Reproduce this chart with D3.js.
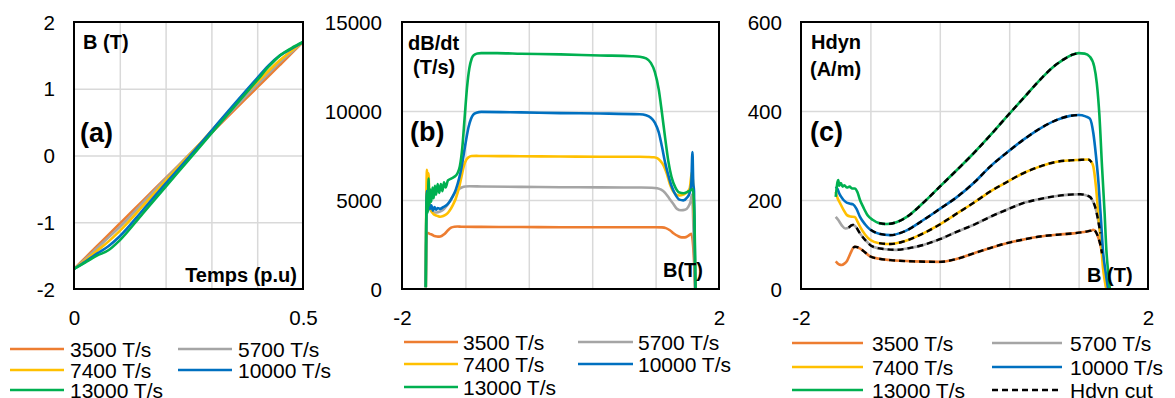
<!DOCTYPE html>
<html><head><meta charset="utf-8">
<script src="https://cdn.jsdelivr.net/npm/d3@7"></script>
<style>body{margin:0;background:#fff}svg{display:block}</style>
</head><body><svg id="c" width="1175" height="398"></svg>
<script>
// ---------- DATA ----------
const seriesNames = ["3500 T/s","5700 T/s","7400 T/s","10000 T/s","13000 T/s"];
const seriesColors = ["#ED7D31","#A5A5A5","#FFC000","#0070C0","#00B050"];

// Panel (a): B(T) vs time (p.u)
const aT = [0,0.025,0.05,0.075,0.1,0.15,0.2,0.25,0.3,0.35,0.4,0.425,0.45,0.475,0.5];
const a3500  = [-1.70,-1.53,-1.36,-1.19,-1.02,-0.68,-0.34,0.00,0.34,0.68,1.02,1.19,1.36,1.53,1.70];
const a5700  = [-1.70,-1.55,-1.39,-1.23,-1.07,-0.71,-0.35,0.00,0.35,0.71,1.06,1.23,1.40,1.55,1.70];
const a7400  = [-1.70,-1.57,-1.43,-1.29,-1.13,-0.76,-0.38,-0.01,0.37,0.75,1.10,1.27,1.43,1.57,1.70];
const a10000 = [-1.70,-1.59,-1.47,-1.36,-1.21,-0.82,-0.42,-0.03,0.37,0.77,1.16,1.35,1.50,1.60,1.70];
const a13000 = [-1.70,-1.60,-1.50,-1.42,-1.27,-0.87,-0.47,-0.07,0.33,0.73,1.13,1.33,1.50,1.61,1.70];
const aXTicks = [0,0.5], aXGrid = [0.1,0.2,0.3,0.4], aYTicks = [-2,-1,0,1,2];

// Panel (b): dB/dt vs B
const bB3500 = [-1.70,-1.695,-1.685,-1.67,-1.65,-1.62,-1.59,-1.56,-1.53,-1.50,-1.46,-1.42,-1.38,-1.34,-1.30,-1.25,-1.0,-0.5,0,0.5,1.0,1.20,1.28,1.33,1.38,1.43,1.48,1.53,1.57,1.61,1.65,1.68,1.70];
const bV3500 = [100,2500,3100,3150,3100,3050,2980,2950,2940,2980,3100,3300,3450,3500,3510,3500,3490,3480,3470,3470,3470,3470,3460,3420,3300,3120,2980,2900,2900,2980,3100,2000,0];
const bB5700 = [-1.70,-1.695,-1.685,-1.67,-1.65,-1.62,-1.59,-1.56,-1.52,-1.48,-1.44,-1.40,-1.36,-1.32,-1.28,-1.24,-1.20,-1.15,-1.0,-0.5,0,0.5,1.0,1.15,1.22,1.27,1.32,1.37,1.42,1.47,1.52,1.57,1.61,1.64,1.66,1.68,1.70];
const bV5700 = [100,3500,5300,4800,4500,4350,4300,4300,4350,4450,4650,4900,5200,5450,5620,5720,5760,5770,5760,5740,5720,5710,5700,5690,5660,5580,5400,5100,4800,4500,4420,4450,4600,4900,5300,3000,0];
const bB7400 = [-1.70,-1.695,-1.685,-1.675,-1.665,-1.655,-1.64,-1.62,-1.60,-1.58,-1.55,-1.52,-1.48,-1.44,-1.40,-1.36,-1.32,-1.28,-1.25,-1.22,-1.19,-1.16,-1.12,-1.06,-1.0,-0.5,0,0.5,1.0,1.10,1.18,1.22,1.26,1.30,1.34,1.38,1.42,1.46,1.50,1.55,1.60,1.63,1.66,1.69,1.70];
const bV7400 = [100,4000,6700,6000,6500,4800,4500,4300,4200,4150,4100,4060,4100,4200,4400,4700,5100,5700,6300,6900,7250,7400,7470,7480,7470,7460,7440,7430,7430,7420,7400,7350,7200,6950,6500,5900,5500,5300,5250,5300,5450,5650,6600,3000,0];
const bB10000 = [-1.70,-1.695,-1.685,-1.675,-1.665,-1.65,-1.63,-1.61,-1.59,-1.57,-1.55,-1.52,-1.48,-1.44,-1.40,-1.36,-1.32,-1.28,-1.25,-1.22,-1.19,-1.16,-1.13,-1.10,-1.06,-1.0,-0.5,0,0.5,1.0,1.08,1.14,1.19,1.24,1.28,1.32,1.36,1.40,1.45,1.50,1.55,1.60,1.63,1.65,1.665,1.675,1.685,1.695,1.70];
const bV10000 = [100,3300,5500,4600,5000,4500,4700,4400,4600,4450,4550,4500,4600,4700,4900,5200,5600,6200,6800,7600,8400,9100,9550,9800,9900,9950,9920,9880,9860,9820,9760,9620,9350,8800,8000,7100,6400,5800,5300,5020,4980,5150,5400,5900,7700,6000,5500,2000,0];
const bB13000 = [-1.70,-1.695,-1.685,-1.675,-1.665,-1.655,-1.645,-1.63,-1.615,-1.60,-1.585,-1.57,-1.55,-1.53,-1.51,-1.49,-1.47,-1.45,-1.42,-1.38,-1.34,-1.30,-1.27,-1.24,-1.21,-1.18,-1.15,-1.12,-1.09,-1.05,-1.0,-0.8,-0.5,0,0.5,0.9,1.0,1.08,1.14,1.19,1.24,1.28,1.32,1.36,1.40,1.45,1.50,1.55,1.60,1.64,1.67,1.69,1.70,1.705];
const bV13000 = [100,3500,5400,4300,6200,4700,5600,4900,5700,5100,5800,5300,5900,5400,5900,5500,6000,5700,6100,6200,6300,6500,6900,7900,9600,11300,12400,12950,13150,13230,13250,13250,13220,13180,13120,13080,13050,12950,12700,12200,11200,9900,8500,7200,6300,5700,5420,5380,5450,5550,5600,4000,1500,0];
const bXTicks = [-2,2], bXGrid = [-1.2,-0.4,0.4,1.2], bYTicks = [0,5000,10000,15000];

// Panel (c): Hdyn vs B
const cB3500 = [-1.60,-1.58,-1.56,-1.53,-1.50,-1.47,-1.43,-1.40,-1.38,-1.35,-1.32,-1.26,-1.20,-1.10,-0.97,-0.70,-0.40,-0.20,-0.01,0.18,0.37,0.56,0.755,0.95,1.14,1.29,1.34,1.37,1.40,1.43,1.45,1.47,1.49,1.51,1.53,1.56];
const cH3500 = [62,58,55,54,57,63,80,92,95,94,91,82,73,68,65,62,61,68,80,92,103,111,118,122,125,129,131,133,128,114,100,80,58,30,12,0];
const cB5700 = [-1.60,-1.57,-1.53,-1.49,-1.45,-1.42,-1.40,-1.37,-1.32,-1.25,-1.17,-1.05,-0.90,-0.75,-0.59,-0.40,-0.20,0.0,0.18,0.37,0.56,0.75,0.95,1.10,1.22,1.33,1.37,1.39,1.42,1.45,1.48,1.50,1.52];
const cH5700 = [162,155,143,136,138,143,144,140,125,108,95,90,88,92,99,112,129,145,162,178,193,202,209,212,213,207,195,185,160,125,75,36,0];
const cB7400 = [-1.60,-1.58,-1.55,-1.51,-1.47,-1.43,-1.38,-1.35,-1.32,-1.26,-1.20,-1.10,-0.97,-0.80,-0.59,-0.40,-0.20,0.0,0.18,0.37,0.56,0.75,0.95,1.10,1.20,1.31,1.35,1.37,1.40,1.43,1.46,1.48,1.50,1.52];
const cH7400 = [218,205,193,178,166,163,162,152,140,122,110,103,101,108,125,145,170,195,219,240,260,275,286,289,290,291,285,275,230,162,100,50,20,0];
const cB10000 = [-1.60,-1.58,-1.56,-1.54,-1.51,-1.48,-1.44,-1.40,-1.36,-1.32,-1.26,-1.20,-1.10,-0.97,-0.80,-0.59,-0.40,-0.20,0.0,0.18,0.37,0.56,0.75,0.95,1.10,1.20,1.28,1.33,1.37,1.40,1.43,1.46,1.48,1.51,1.54];
const cH10000 = [230,225,215,208,200,195,192,190,180,162,145,133,124,121,130,155,180,207,240,275,306,335,360,380,389,391,388,383,350,300,237,150,88,40,0];
const cB13000 = [-1.60,-1.59,-1.58,-1.57,-1.56,-1.54,-1.52,-1.50,-1.47,-1.44,-1.41,-1.38,-1.35,-1.32,-1.28,-1.23,-1.17,-1.10,-1.01,-0.90,-0.78,-0.60,-0.40,-0.20,-0.01,0.18,0.37,0.56,0.755,0.90,1.02,1.12,1.20,1.27,1.33,1.38,1.41,1.44,1.47,1.50,1.52,1.54,1.56];
const cH13000 = [207,225,240,245,232,238,230,233,228,230,226,226,218,200,183,165,155,148,146,150,162,192,230,268,305,345,387,428,470,498,515,526,530,529,522,500,462,390,275,170,88,40,0];
// "Hdyn cut" B range per series
const cutStart = [-1.40,-1.45,-1.18,-1.23,-1.15];
const cutEnd   = [1.47,1.47,1.35,1.27,1.22];
const cXTicks = [-2,2], cXGrid = [-1.2,-0.4,0.4,1.2], cYTicks = [0,200,400,600];

// ---------- DRAW ----------
const svg = d3.select("#c");
const FONT = "'Liberation Sans', Arial, sans-serif";

function zip(xs, ys){ return xs.map((x,i)=>[x,ys[i]]); }

function panel(o){
  const x = d3.scaleLinear().domain(o.xDom).range([o.l,o.r]);
  const y = d3.scaleLinear().domain(o.yDom).range([o.b,o.t]);
  const g = svg.append("g");
  // grid
  g.append("g").attr("transform",`translate(0,${o.b})`)
    .call(d3.axisBottom(x).tickValues(o.xGrid).tickSize(-(o.b-o.t)).tickFormat(""))
    .call(s=>{s.select(".domain").remove(); s.selectAll("line").attr("stroke","#d9d9d9").attr("stroke-width",1.5);});
  g.append("g").attr("transform",`translate(${o.l},0)`)
    .call(d3.axisLeft(y).tickValues(o.yTicks.slice(1,-1)).tickSize(-(o.r-o.l)).tickFormat(""))
    .call(s=>{s.select(".domain").remove(); s.selectAll("line").attr("stroke","#d9d9d9").attr("stroke-width",1.5);});
  // tick labels
  g.append("g").attr("transform",`translate(${o.l},0)`)
    .call(d3.axisLeft(y).tickValues(o.yTicks).tickSize(0).tickPadding(o.yPad).tickFormat(d=>String(d)))
    .call(s=>{s.select(".domain").remove(); s.attr("font-size",20.6).attr("font-family",FONT);
      s.selectAll("text").attr("fill","#000").attr("dy","0.35em");});
  g.append("g").attr("transform",`translate(0,${o.b})`)
    .call(d3.axisBottom(x).tickValues(o.xTicks).tickSize(0).tickPadding(21).tickFormat(d=>String(d)))
    .call(s=>{s.select(".domain").remove(); s.attr("font-size",20.6).attr("font-family",FONT);
      s.selectAll("text").attr("fill","#000");});
  // clip
  const id = "clip"+o.name;
  svg.append("clipPath").attr("id",id).append("rect")
    .attr("x",o.l).attr("y",o.t).attr("width",o.r-o.l).attr("height",o.b-o.t);
  const line = d3.line().x(d=>x(d[0])).y(d=>y(d[1])).curve(d3.curveMonotoneX);
  const lg = g.append("g").attr("clip-path",`url(#${id})`);
  o.series.forEach((s,i)=>{
    lg.append("path").attr("d",line(s)).attr("fill","none")
      .attr("stroke",seriesColors[i]).attr("stroke-width",2.6).attr("stroke-linejoin","round");
  });
  if(o.cut){
    o.series.forEach((s,i)=>{
      const sub = s.filter(d=>d[0]>=cutStart[i] && d[0]<=cutEnd[i]);
      lg.append("path").attr("d",line(sub)).attr("fill","none")
        .attr("stroke","#000").attr("stroke-width",2.4).attr("stroke-dasharray","6,4");
    });
  }
  // border
  g.append("rect").attr("x",o.l).attr("y",o.t).attr("width",o.r-o.l).attr("height",o.b-o.t)
    .attr("fill","none").attr("stroke","#000").attr("stroke-width",2);
  // labels
  o.labels.forEach(L=>{
    g.append("text").attr("x",L.x).attr("y",L.y).attr("text-anchor",L.a||"start")
      .attr("font-family",FONT).attr("font-weight","bold").attr("font-size",L.fs||20)
      .attr("fill","#000").text(L.t);
  });
  // legend
  const items = seriesNames.map((n,i)=>({n,c:seriesColors[i],dash:null}));
  if(o.cut) items.push({n:"Hdyn cut",c:"#000",dash:"6,4"});
  items.forEach((it,i)=>{
    const col = i%2, row = Math.floor(i/2);
    const lx = o.leg.lx[col], ly = o.leg.y[row];
    g.append("line").attr("x1",lx[0]).attr("x2",lx[1]).attr("y1",ly).attr("y2",ly)
      .attr("stroke",it.c).attr("stroke-width",2.6).attr("stroke-dasharray",it.dash);
    g.append("text").attr("x",o.leg.tx[col]).attr("y",ly+7.5)
      .attr("font-family",FONT).attr("font-size",21).attr("fill","#000").text(it.n);
  });
}

panel({name:"a", l:74, r:303, t:22, b:289, xDom:[0,0.5], yDom:[-2,2],
  xGrid:aXGrid, xTicks:aXTicks, yTicks:aYTicks, yPad:19,
  series:[zip(aT,a3500),zip(aT,a5700),zip(aT,a7400),zip(aT,a10000),zip(aT,a13000)],
  labels:[{t:"B (T)",x:83,y:49},{t:"(a)",x:80,y:142,fs:27},{t:"Temps (p.u)",x:297,y:282,a:"end"}],
  leg:{lx:[[10,64],[178,232]], tx:[70,238], y:[349,370,390]}});

panel({name:"b", l:402, r:719, t:22, b:289, xDom:[-2,2], yDom:[0,15000],
  xGrid:bXGrid, xTicks:bXTicks, yTicks:bYTicks, yPad:20,
  series:[zip(bB3500,bV3500),zip(bB5700,bV5700),zip(bB7400,bV7400),zip(bB10000,bV10000),zip(bB13000,bV13000)],
  labels:[{t:"dB/dt",x:408,y:50},{t:"(T/s)",x:413,y:74},{t:"(b)",x:410,y:141,fs:27},{t:"B(T)",x:663,y:277}],
  leg:{lx:[[404,458],[578,633]], tx:[463,638], y:[342,364,387]}});

panel({name:"c", l:801, r:1148, t:22, b:289, xDom:[-2,2], yDom:[0,600],
  xGrid:cXGrid, xTicks:cXTicks, yTicks:cYTicks, yPad:19, cut:true,
  series:[zip(cB3500,cH3500),zip(cB5700,cH5700),zip(cB7400,cH7400),zip(cB10000,cH10000),zip(cB13000,cH13000)],
  labels:[{t:"Hdyn",x:811,y:49},{t:"(A/m)",x:810,y:76},{t:"(c)",x:810,y:141,fs:27},{t:"B (T)",x:1087,y:282}],
  leg:{lx:[[792,863],[992,1062]], tx:[872,1070], y:[343,367,390]}});
</script></body></html>
